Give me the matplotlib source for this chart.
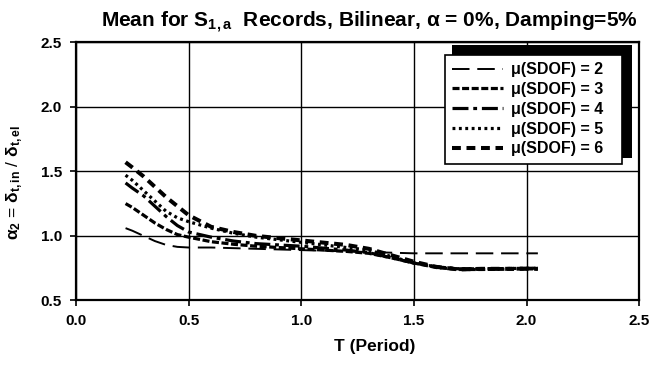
import numpy as np
import matplotlib
matplotlib.use('Agg')
import matplotlib.pyplot as plt
from matplotlib.patches import Rectangle

plt.rcParams['font.family'] = ['Liberation Sans', 'DejaVu Sans']
plt.rcParams['font.weight'] = 'bold'
plt.rcParams['mathtext.fontset'] = 'custom'
plt.rcParams['mathtext.rm'] = 'Liberation Sans:bold'
plt.rcParams['mathtext.it'] = 'Liberation Sans:bold'
plt.rcParams['mathtext.bf'] = 'Liberation Sans:bold'

# periods (s)
period = [0.22, 0.25, 0.3, 0.35, 0.4, 0.45, 0.5, 0.6, 0.7, 0.8, 1.0,
          1.2, 1.3, 1.4, 1.5, 1.6, 1.7, 1.8, 2.05]

# mean alpha2 per ductility
mu2 = [1.06, 1.04, 1.00, 0.96, 0.93, 0.915, 0.91, 0.91, 0.905, 0.90, 0.89,
       0.88, 0.875, 0.87, 0.865, 0.865, 0.865, 0.865, 0.865]
mu3 = [1.25, 1.22, 1.16, 1.10, 1.05, 1.01, 0.99, 0.955, 0.935, 0.92, 0.90,
       0.88, 0.865, 0.83, 0.79, 0.755, 0.74, 0.74, 0.745]
mu4 = [1.41, 1.37, 1.31, 1.23, 1.15, 1.08, 1.03, 0.99, 0.96, 0.94, 0.92,
       0.89, 0.87, 0.83, 0.79, 0.76, 0.745, 0.745, 0.75]
mu5 = [1.47, 1.43, 1.35, 1.27, 1.19, 1.14, 1.11, 1.06, 1.02, 0.99, 0.95,
       0.91, 0.89, 0.84, 0.79, 0.76, 0.745, 0.745, 0.75]
mu6 = [1.57, 1.53, 1.46, 1.38, 1.30, 1.23, 1.16, 1.07, 1.03, 1.00, 0.965,
       0.93, 0.90, 0.85, 0.80, 0.76, 0.74, 0.745, 0.745]

labels = ['\u03bc(SDOF) = 2', '\u03bc(SDOF) = 3', '\u03bc(SDOF) = 4',
          '\u03bc(SDOF) = 5', '\u03bc(SDOF) = 6']
xticks = [0.0, 0.5, 1.0, 1.5, 2.0, 2.5]
yticks = [0.5, 1.0, 1.5, 2.0, 2.5]

fig = plt.figure(figsize=(6.58, 3.66), dpi=100)
ax = fig.add_axes([0.1155, 0.179, 0.856, 0.706])

styles = [((0, (9, 4)), 1.4),
          ((0, (2.2, 0.8)), 2.3),
          ((0, (5, 1.5, 1.2, 1.5)), 2.3),
          ((0, (0.9, 1.1)), 2.3),
          ((0, (2.2, 1.4)), 2.9)]
series = [mu2, mu3, mu4, mu5, mu6]
for vals, lab, (ls, lw) in zip(series, labels, styles):
    ax.plot(period, vals, color='black', linestyle=ls, linewidth=lw, label=lab)

ax.set_xlim(0, 2.5)
ax.set_ylim(0.5, 2.5)
ax.set_xticks(xticks)
ax.set_yticks(yticks)
ax.set_xticklabels(['%.1f' % t for t in xticks])
ax.set_yticklabels(['%.1f' % t for t in yticks])
ax.grid(True, color='black', linewidth=1.0)
ax.set_axisbelow(True)
for s in ax.spines.values():
    s.set_linewidth(1.6)
ax.tick_params(direction='out', length=4, width=1.2, labelsize=11, pad=6)

ax.set_xlabel('T (Period)', fontsize=12.5, fontweight='bold')
ax.xaxis.set_label_coords(0.53, -0.15)
ax.set_ylabel(r'$\alpha_2$ = $\delta_{t,in}$ / $\delta_{t,el}$', fontsize=12.5)
ax.yaxis.set_label_coords(-0.091, 0.455)

fig.text(0.561, 1 - 27 / 366.0,
         r'Mean for S$_{1,a}$  Records, Bilinear, $\alpha$ = 0%, Damping=5%',
         ha='center', va='baseline', fontsize=15, fontweight='bold')

# legend with a heavy offset shadow
ax.add_patch(Rectangle((0.668, 0.551), 0.320, 0.437, transform=ax.transAxes,
                       facecolor='black', edgecolor='none', zorder=4,
                       clip_on=False))
leg = ax.legend(loc='upper left', bbox_to_anchor=(0.655, 0.95, 0.314, 0.0),
                mode='expand', borderaxespad=0, fontsize=11.5,
                labelspacing=0.3, handlelength=3.2, handletextpad=0.5,
                borderpad=0.45, fancybox=False, framealpha=1,
                edgecolor='black')
leg.get_frame().set_linewidth(1.2)
leg.set_zorder(5)

fig.savefig('out.png', dpi=100)
